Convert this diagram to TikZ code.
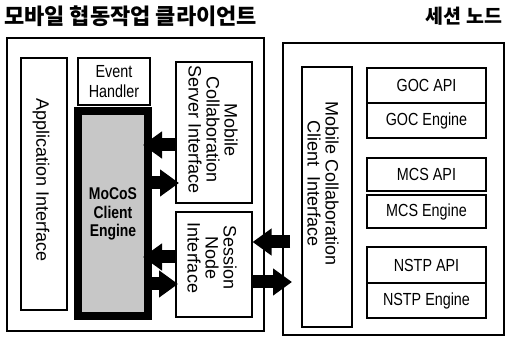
\documentclass[tikz,border=0pt]{standalone}
\usepackage{fontspec}
\setmainfont{Liberation Sans}
\newfontfamily\hfont{Liberation Sans}[FakeStretch=0.82]
\newfontfamily\krfont{Noto Sans CJK KR}[UprightFont=* Black]
\usetikzlibrary{arrows.meta}
\begin{document}
\begin{tikzpicture}[x=1pt,y=-1pt,
  outer/.style={draw, line width=1.4pt, inner sep=0pt},
  box/.style={draw, line width=1.2pt, inner sep=0pt, font=\hfont\fontsize{17.5}{20}\selectfont, align=center},
  rbox/.style={box, minimum width=119pt},
  vtext/.style={rotate=-90, font=\fontsize{18}{18}\selectfont, align=center, inner sep=0pt},
  title/.style={inner sep=0pt},
  fat/.style={line width=13pt, -{Triangle[length=19pt,width=26pt]}},
]
\useasboundingbox (0,0) rectangle (507,339);
% titles
\node[title, font=\krfont\fontsize{22}{22}\selectfont, anchor=west] (tl) at (4,16) {모바일 협동작업 클라이언트};
\node[title, font=\krfont\fontsize{19.5}{20}\selectfont] (tr) at (464,16) {세션 노드};
% outer boxes
\node[outer, minimum width=257pt, minimum height=293pt] (lout) at (135.5,184.5) {};
\node[outer, minimum width=221pt, minimum height=292pt] (rout) at (393.5,189) {};
% client boxes
\node[box, minimum width=46pt, minimum height=252pt] (app) at (44,184) {};
\node[vtext] (appt) at (41,180) {Application Interface};
\node[box, minimum width=72pt, minimum height=47pt] (evt) at (114,81.5) {Event\\Handler};
\node[draw, line width=8pt, fill=black!22, minimum width=70pt, minimum height=205pt, inner sep=0pt,
      font=\hfont\bfseries\fontsize{17}{18.5}\selectfont, align=center] (eng) at (113,214) {MoCoS\\Client\\Engine};
\node[box, minimum width=76pt, minimum height=141pt] (srv) at (214,132.5) {};
\node[vtext] (srvt) at (213,130) {Mobile\\Collaboration\\Server Interface};
\node[box, minimum width=76pt, minimum height=105pt] (sess) at (214,264.5) {};
\node[vtext] (sesst) at (212,258) {Session\\Node\\Interface};
% session node boxes
\node[box, minimum width=50pt, minimum height=260pt] (mcci) at (327,197) {};
\node[vtext] (mccit) at (323,184) {Mobile Collaboration\\Client\ \ Interface};
\node[rbox, minimum height=35pt] (gocapi) at (426.5,85.5) {GOC API};
\node[rbox, minimum height=35pt] (goceng) at (426.5,120.5) {GOC Engine};
\node[rbox, minimum height=33pt] (mcsapi) at (426.5,174.5) {MCS API};
\node[rbox, minimum height=33pt] (mcseng) at (426.5,211.5) {MCS Engine};
\node[rbox, minimum height=36pt] (nstpapi) at (426.5,265) {NSTP API};
\node[rbox, minimum height=35pt] (nstpeng) at (426.5,300.5) {NSTP Engine};
% arrows
\coordinate (t1) at (143,145);
\coordinate (t2) at (179,183);
\coordinate (t3) at (143,257);
\coordinate (t4) at (178,284);
\coordinate (s5) at (290,242);
\coordinate (t6) at (292,282);
\draw[fat] (srv.west |- t1) -- (t1);
\draw[fat] (eng.east |- t2) -- (t2);
\draw[fat] (sess.west |- t3) -- (t3);
\draw[fat] (eng.east |- t4) -- (t4);
\draw[fat] (s5) -- (sess.east |- s5);
\draw[fat] (sess.east |- t6) -- (t6);
\end{tikzpicture}
\end{document}
